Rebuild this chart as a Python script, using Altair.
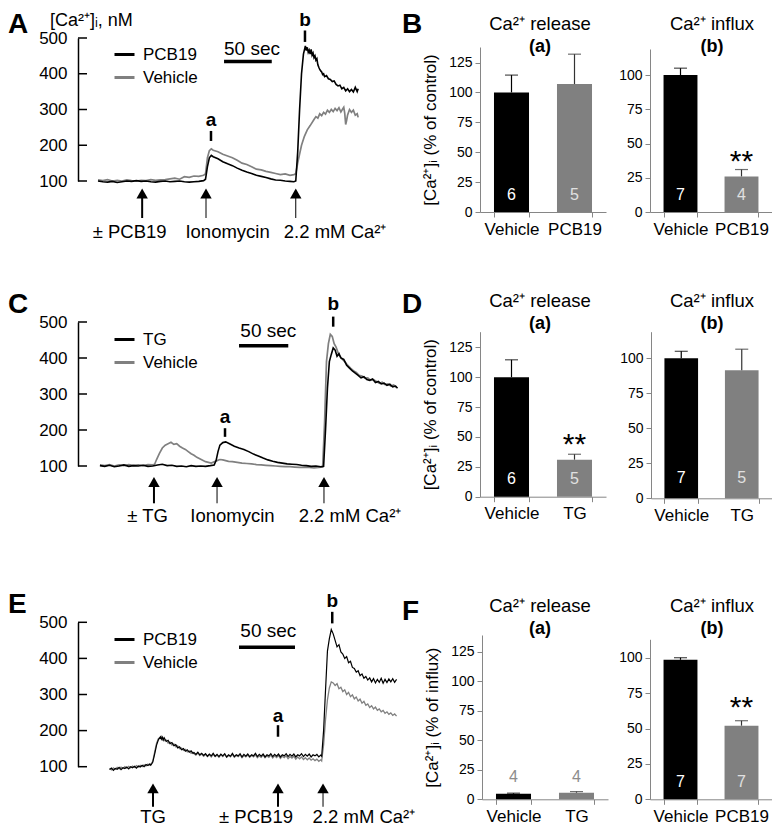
import altair as alt
import pandas as pd

FONT = "Liberation Sans"
BLACK = "#000000"
GRAY = "#808080"
AXGRAY = "#868686"
W, H = 764, 820   # whole drawing area (page origin is 8,8)

# ---------------- traces: (time [s], [Ca2+]i [nM]) ----------------
A_PCB19 = [(0,100),(5,98),(10,97),(15,99),(20,96),(25,98),(30,100),(35,99),(40,101),(45,99),(50,100),(55,98),
           (60,97),(65,99),(70,100),(75,98),(80,99),(85,100),(90,98),(95,97),(100,98),(105,99),(110,101),
           (112,105),(114,140),(116,165),(118,172),(120,168),(125,162),(130,154),(135,148),(140,143),(145,136),
           (150,130),(155,125),(160,121),(165,116),(170,113),(175,110),(180,106),(185,103),(190,102),(195,100),
           (200,99),(204,98),(206,100),(208,180),(210,300),(212,400),(214,455),(216,478),(217,465),(218,474),
           (219,460),(220,466),(221,455),(222,468),(223,452),(224,458),(225,445),(226,450),(227,438),(228,442),
           (229,425),(230,418),(231,412),(232,408),(233,405),(234,398),(235,400),(236,392),(238,395),(240,386),
           (242,384),(244,378),(246,380),(248,370),(250,366),(252,368),(254,358),(256,362),(258,352),(260,358),
           (262,350),(264,356),(266,349),(268,362),(270,350),(271,358)]
A_VEHICLE = [(0,103),(5,101),(10,104),(15,100),(20,102),(25,100),(30,103),(35,101),(40,100),(45,102),(50,101),
             (55,104),(60,102),(65,103),(70,104),(75,106),(80,108),(85,105),(90,112),(95,110),(100,114),(105,113),
             (110,116),(112,120),(114,165),(116,185),(118,190),(120,186),(125,182),(130,175),(135,170),(140,165),
             (145,158),(150,150),(155,146),(160,140),(165,133),(170,131),(175,127),(180,124),(185,121),(190,118),
             (195,120),(200,116),(204,118),(206,120),(208,150),(210,175),(212,200),(215,225),(218,243),(221,255),
             (225,272),(227,280),(229,276),(231,288),(233,283),(235,292),(237,287),(239,298),(241,292),(243,300),
             (245,294),(247,303),(249,297),(251,305),(253,293),(255,302),(256,306),(257,290),(258,258),(259,270),
             (260,285),(262,300),(264,292),(266,298),(268,284),(270,288),(271,278)]
C_TG = [(2,101),(7,99),(12,102),(17,98),(22,100),(27,103),(32,99),(37,101),(42,100),(47,102),(52,99),(57,100),
        (62,103),(67,105),(72,101),(77,102),(82,99),(87,100),(92,98),(97,101),(102,99),(107,100),(112,99),
        (117,101),(121,103),(123,115),(125,140),(127,158),(130,165),(133,167),(137,162),(142,155),(147,150),
        (152,146),(157,140),(162,133),(167,128),(172,122),(177,117),(182,113),(187,110),(192,108),(197,106),
        (202,105),(207,104),(212,102),(217,101),(222,99),(227,100),(232,98),(235,99),(237,200),(239,316),
        (241,390),(243,410),(245,428),(247,422),(249,405),(251,412),(253,400),(256,396),(259,380),(262,372),
        (265,364),(268,358),(271,352),(274,345),(277,348),(280,340),(283,338),(286,342),(289,332),(292,335),
        (295,328),(298,330),(301,324),(304,327),(307,320),(310,322),(312,316)]
C_VEHICLE = [(2,103),(7,101),(12,104),(17,100),(22,103),(27,101),(32,104),(37,102),(42,103),(47,101),(52,104),
             (57,103),(59,105),(61,118),(64,135),(67,150),(70,158),(73,162),(76,166),(79,160),(82,162),(85,155),
             (88,150),(91,146),(94,140),(97,134),(100,130),(103,124),(106,120),(109,116),(112,112),(115,110),
             (118,108),(121,112),(124,115),(127,118),(130,117),(133,115),(136,113),(140,112),(145,110),(150,108),
             (155,107),(160,106),(165,104),(170,103),(175,102),(180,101),(185,100),(190,99),(195,98),(200,98),
             (205,97),(210,96),(215,97),(220,96),(225,95),(230,96),(234,97),(236,220),(238,390),(240,440),
             (242,466),(244,460),(246,440),(248,430),(250,415),(252,405),(254,398),(257,390),(260,380),(263,372),
             (266,365),(269,360),(272,352),(275,350),(278,344),(281,345),(284,338),(287,340),(290,335),(293,330),
             (296,333),(299,326),(302,328),(305,322),(308,325),(311,318)]
E_PCB19 = [(12,92),(14,96),(16,90),(18,95),(20,93),(22,98),(24,92),(26,97),(28,95),(30,99),(32,94),(34,100),
           (36,97),(38,101),(40,96),(42,102),(44,99),(46,104),(48,100),(50,106),(52,103),(54,108),(55,104),
           (57,112),(59,135),(61,160),(63,175),(65,183),(66,176),(67,182),(68,174),(69,180),(71,170),(73,173),
           (75,164),(77,167),(79,158),(81,161),(83,152),(85,155),(87,147),(89,150),(91,143),(93,147),(95,140),
           (97,144),(99,137),(100,139),(102,134),(104,140),(106,133),(108,137),(110,131),(112,136),(114,129),
           (116,135),(118,130),(120,137),(122,129),(124,134),(126,128),(128,135),(130,130),(132,136),(134,127),
           (136,133),(138,129),(140,137),(142,128),(144,133),(146,130),(148,136),(150,127),(152,134),(154,129),
           (156,135),(158,128),(160,133),(162,130),(164,137),(166,128),(168,134),(170,129),(172,135),(174,127),
           (176,133),(178,130),(180,136),(182,128),(184,134),(186,129),(188,135),(190,127),(192,133),(194,130),
           (196,136),(198,128),(200,134),(202,129),(204,135),(206,127),(208,133),(210,130),(212,136),(214,128),
           (216,134),(218,129),(220,135),(222,127),(224,133),(226,130),(228,134),(230,127),(232,132),(233,129),
           (235,200),(237,312),(239,420),(241,455),(243,480),(245,468),(247,450),(249,432),(251,438),(253,418),
           (255,412),(257,400),(259,405),(261,388),(263,392),(265,375),(267,372),(269,362),(271,366),(273,352),
           (275,357),(277,345),(279,350),(281,340),(283,346),(285,335),(287,344),(289,332),(291,342),(293,334),
           (295,345),(297,331),(299,342),(301,333),(303,343),(305,335),(307,344),(309,334),(311,342)]
E_VEHICLE = [(12,95),(14,91),(16,97),(18,93),(20,98),(22,94),(24,99),(26,95),(28,100),(30,96),(32,101),(34,97),
             (36,102),(38,98),(40,103),(42,99),(44,104),(46,100),(48,105),(50,102),(52,107),(54,104),(55,106),
             (57,115),(59,140),(61,165),(63,178),(65,181),(66,184),(67,175),(68,179),(69,172),(71,174),(73,165),
             (75,168),(77,160),(79,163),(81,155),(83,158),(85,150),(87,152),(89,145),(91,148),(93,141),(95,144),
             (97,137),(99,140),(100,136),(102,132),(104,138),(106,131),(108,135),(110,129),(112,134),(114,128),
             (116,133),(118,127),(120,134),(122,128),(124,132),(126,126),(128,133),(130,128),(132,134),(134,126),
             (136,131),(138,127),(140,134),(142,126),(144,131),(146,128),(148,133),(150,125),(152,131),(154,127),
             (156,132),(158,126),(160,131),(162,127),(164,133),(166,125),(168,130),(170,126),(172,132),(174,125),
             (176,130),(178,126),(180,132),(182,124),(184,130),(186,125),(188,131),(190,123),(192,129),(194,125),
             (196,130),(198,122),(200,128),(202,124),(204,129),(206,121),(208,127),(210,122),(212,127),(214,120),
             (216,125),(218,119),(220,124),(222,118),(224,122),(226,117),(228,121),(230,115),(232,119),(233,116),
             (235,160),(237,230),(239,285),(241,318),(243,335),(245,332),(247,325),(249,330),(251,316),(253,320),
             (255,308),(257,313),(259,300),(261,306),(263,294),(265,299),(267,288),(269,293),(271,282),(273,287),
             (275,276),(277,281),(279,270),(281,274),(283,264),(285,269),(287,260),(289,265),(291,256),(293,260),
             (295,252),(297,256),(299,248),(301,252),(303,245),(305,249),(307,242),(309,246),(311,240)]

# ---------------- trace annotations ----------------
A_ARROW_T = [46, 112.5, 206]
A_ARROW_W = [2, 1, 1]
A_LABEL_T = [33, 135, 247]
A_LABELS = ["± PCB19", "Ionomycin", "2.2 mM Ca²⁺"]
A_MARK_T = [117.7, 215.6]          # 'a', 'b'
A_MARK_TXT = [254, 533]
A_MARK_TOP = [240, 521]
A_MARK_BOT = [212, 489]
A_BAR = (131.3, 181.0, 434, 160.4, 452)   # t1, t2, value, text t, text value

C_ARROW_T = [58.3, 124, 235.4]
C_ARROW_W = [2, 1, 1]
C_LABEL_T = [51.6, 140, 262.5]
C_LABELS = ["± TG", "Ionomycin", "2.2 mM Ca²⁺"]
C_MARK_T = [132.3, 245]
C_MARK_TXT = [219, 533]
C_MARK_TOP = [205, 515]
C_MARK_BOT = [181, 487]
C_BAR = (146.9, 198.2, 434, 177.4, 459)

E_ARROW_T = [57.3, 187.5, 234.4]
E_ARROW_W = [2, 2, 1]
E_LABEL_T = [57.3, 164.6, 277]
E_LABELS = ["TG", "± PCB19", "2.2 mM Ca²⁺"]
E_MARK_T = [187.5, 244]
E_MARK_TXT = [225, 543]
E_MARK_TOP = [215, 529]
E_MARK_BOT = [183, 497]
E_BAR = (146.9, 205.2, 431, 177.4, 460)

# ---------------- bar data ----------------
B1_CATS = ["Vehicle", "PCB19"]; B1_VAL = [100, 107]; B1_ERR = [14.5, 25]; B1_N = ["6", "5"]
B2_CATS = ["Vehicle", "PCB19"]; B2_VAL = [100, 26]; B2_ERR = [5, 5]; B2_N = ["7", "4"]
D1_CATS = ["Vehicle", "TG"]; D1_VAL = [100, 31]; D1_ERR = [14.5, 4.5]; D1_N = ["6", "5"]
D2_CATS = ["Vehicle", "TG"]; D2_VAL = [100, 91.5]; D2_ERR = [5, 15]; D2_N = ["7", "5"]
F1_CATS = ["Vehicle", "TG"]; F1_VAL = [4.6, 5.6]; F1_ERR = [0.6, 0.9]; F1_N = ["4", "4"]
F2_CATS = ["Vehicle", "PCB19"]; F2_VAL = [98.5, 52]; F2_ERR = [1.5, 3.5]; F2_N = ["7", "7"]


def txt(s, x, y, size, weight="normal", align="left", baseline="alphabetic", color=BLACK):
    return alt.Chart(pd.DataFrame({"s": [s]})).mark_text(
        fontSize=size, fontWeight=weight, font=FONT, color=color, align=align,
        baseline=baseline).encode(x=alt.value(x), y=alt.value(y), text="s:N")


def line_panel(treat, trt, veh, yrange, legend_y, arrow_t, arrow_w, head_v, tail_v,
               label_t, labels, label_v, mark_t, mark_txt, mark_top, mark_bot, sbar, lw):
    X = alt.X("t:Q", scale=alt.Scale(domain=[0, 320], range=[90, 397.2]), axis=None)
    Y = alt.Y("value:Q", scale=alt.Scale(domain=[100, 500], range=yrange),
              axis=alt.Axis(values=[100, 200, 300, 400, 500], orient="left", offset=-70, ticks=False,
                            tickSize=0, grid=False, domainColor=BLACK, domainWidth=1.5, labelFontSize=17,
                            labelColor=BLACK, labelPadding=11, labelFont=FONT, title=None))
    color = alt.Color("series:N", scale=alt.Scale(domain=[treat, "Vehicle"], range=[BLACK, GRAY]),
                      legend=alt.Legend(orient="none", legendX=105, legendY=legend_y, title=None,
                                        symbolType="stroke", symbolSize=400, symbolStrokeWidth=3,
                                        labelFontSize=17, labelFont=FONT, labelColor=BLACK,
                                        labelOffset=7, rowPadding=3, padding=0))
    veh_df = pd.DataFrame(veh, columns=["t", "value"]).assign(series="Vehicle")
    trt_df = pd.DataFrame(trt, columns=["t", "value"]).assign(series=treat)
    l_veh = alt.Chart(veh_df).mark_line(strokeWidth=lw + 0.1).encode(x=X, y=Y, color=color)
    l_trt = alt.Chart(trt_df).mark_line(strokeWidth=lw).encode(x=X, y=Y, color=color)
    ticks = alt.Chart(pd.DataFrame({"value": [100, 200, 300, 400, 500]})).mark_rule(
        color=BLACK, strokeWidth=1.5).encode(y=Y, x=alt.value(70), x2=alt.value(79))
    arr_df = pd.DataFrame({"t": arrow_t, "value": [head_v] * 3, "value2": [tail_v] * 3, "w": arrow_w})
    shafts = alt.Chart(arr_df).mark_rule(color=BLACK).encode(
        x=X, y=Y, y2=alt.Y2("value2:Q"), strokeWidth=alt.StrokeWidth("w:Q", scale=None))
    heads = alt.Chart(arr_df).mark_point(shape="triangle-up", filled=True, size=130, color=BLACK,
                                         opacity=1).encode(x=X, y=Y)
    lab_df = pd.DataFrame({"t": label_t, "value": [label_v] * 3, "label": labels})
    labs = alt.Chart(lab_df).mark_text(fontSize=18.5, font=FONT, color=BLACK, baseline="middle",
                                       align="center").encode(x=X, y=Y, text="label:N")
    mk_df = pd.DataFrame({"t": mark_t, "value": mark_top, "value2": mark_bot})
    mk = alt.Chart(mk_df).mark_rule(color=BLACK, strokeWidth=2.5).encode(x=X, y=Y, y2=alt.Y2("value2:Q"))
    mkt_df = pd.DataFrame({"t": mark_t, "value": mark_txt, "label": ["a", "b"]})
    mkt = alt.Chart(mkt_df).mark_text(fontSize=19, fontWeight="bold", font=FONT, color=BLACK,
                                      baseline="alphabetic", align="center").encode(x=X, y=Y, text="label:N")
    sb_df = pd.DataFrame({"t": [sbar[0]], "t2": [sbar[1]], "value": [sbar[2]]})
    sb = alt.Chart(sb_df).mark_rule(color=BLACK, strokeWidth=3.5).encode(x=X, x2=alt.X2("t2:Q"), y=Y)
    sbt_df = pd.DataFrame({"t": [sbar[3]], "value": [sbar[4]], "label": ["50 sec"]})
    sbt = alt.Chart(sbt_df).mark_text(fontSize=19, font=FONT, color=BLACK, baseline="alphabetic",
                                      align="center").encode(x=X, y=Y, text="label:N")
    return alt.layer(ticks, l_veh, l_trt, shafts, heads, labs, mk, mkt, sb, sbt)


def bar_panel(cats, vals, errs, ns, n_v, n_colors, star_v, xrange, ydom, yrange, yvals, ytitle=None):
    zero_y = yrange[0]
    X = alt.X("cat:N", sort=cats, scale=alt.Scale(range=xrange, paddingInner=0.444, paddingOuter=0.222),
              axis=alt.Axis(title=None, orient="bottom", offset=zero_y - H, labelAngle=0, labelFontSize=17,
                            labelFont=FONT, labelColor=BLACK, domainColor=AXGRAY, tickColor=AXGRAY,
                            tickSize=5, tickBand="extent", labelPadding=4))
    ax = dict(values=yvals, orient="left", offset=-xrange[0], grid=False, domainColor=AXGRAY,
              tickColor=AXGRAY, tickSize=5, labelFontSize=14, labelFont=FONT, labelColor=BLACK,
              labelPadding=3)
    if ytitle:
        ax.update(title=ytitle, titleFontSize=17, titleFont=FONT, titleFontWeight="normal",
                  titleColor=BLACK, titlePadding=9)
    else:
        ax.update(title=None)
    ysc = alt.Scale(domain=ydom, range=yrange)

    def Yf(field):
        return alt.Y(field, scale=ysc, axis=alt.Axis(**ax))

    df = pd.DataFrame({"cat": cats, "value": vals, "hi": [v + e for v, e in zip(vals, errs)],
                       "n": ns, "ny": n_v, "ncol": n_colors, "fill": [BLACK, GRAY],
                       "ecol": [BLACK, "#333333"]})
    bars = alt.Chart(df).mark_bar().encode(x=X, y=Yf("value:Q"), color=alt.Color("fill:N", scale=None))
    err = alt.Chart(df).mark_rule(strokeWidth=1.2).encode(
        x=X, y=Yf("value:Q"), y2=alt.Y2("hi:Q"), color=alt.Color("ecol:N", scale=None))
    cap = alt.Chart(df).mark_tick(orient="horizontal", size=13, thickness=1.2).encode(
        x=X, y=Yf("hi:Q"), color=alt.Color("ecol:N", scale=None))
    ntxt = alt.Chart(df).mark_text(fontSize=16, font=FONT, baseline="middle", align="center").encode(
        x=X, y=Yf("ny:Q"), text="n:N", color=alt.Color("ncol:N", scale=None))
    layers = [bars, err, cap, ntxt]
    if star_v is not None:
        sdf = pd.DataFrame({"cat": [cats[1]], "sy": [star_v], "s": ["**"]})
        layers.append(alt.Chart(sdf).mark_text(fontSize=30, font=FONT, color=BLACK, baseline="alphabetic",
                                               align="center").encode(x=X, y=Yf("sy:Q"), text="s:N"))
    return alt.layer(*layers)


A = line_panel("PCB19", A_PCB19, A_VEHICLE, [173, 30], 35, A_ARROW_T, A_ARROW_W, 65, -3.5,
               A_LABEL_T, A_LABELS, -43, A_MARK_T, A_MARK_TXT, A_MARK_TOP, A_MARK_BOT, A_BAR, 1.6)
C = line_panel("TG", C_TG, C_VEHICLE, [458, 314], 320, C_ARROW_T, C_ARROW_W, 55.6, -3.6,
               C_LABEL_T, C_LABELS, -37.5, C_MARK_T, C_MARK_TXT, C_MARK_TOP, C_MARK_BOT, C_BAR, 1.6)
E = line_panel("PCB19", E_PCB19, E_VEHICLE, [758.7, 614.3], 620, E_ARROW_T, E_ARROW_W, 40, -11,
               E_LABEL_T, E_LABELS, -38, E_MARK_T, E_MARK_TXT, E_MARK_TOP, E_MARK_BOT, E_BAR, 1.2)

WHITE = "#ffffff"; LIGHT = "#e0e0e0"; MID = "#8c8c8c"
Ba = bar_panel(B1_CATS, B1_VAL, B1_ERR, B1_N, [14, 14], [WHITE, LIGHT], None, [472, 598],
               [0, 138], [204, 39], [0, 25, 50, 75, 100, 125], "[Ca²⁺]ᵢ (% of control)")
Bb = bar_panel(B2_CATS, B2_VAL, B2_ERR, B2_N, [12.5, 12.5], [WHITE, LIGHT], 30.2, [642, 764],
               [0, 119], [204, 41], [0, 25, 50, 75, 100])
Da = bar_panel(D1_CATS, D1_VAL, D1_ERR, D1_N, [15, 15], [WHITE, LIGHT], 35.7, [472, 598],
               [0, 138], [488.7, 323.7], [0, 25, 50, 75, 100, 125], "[Ca²⁺]ᵢ (% of control)")
Db = bar_panel(D2_CATS, D2_VAL, D2_ERR, D2_N, [14.3, 14.3], [WHITE, LIGHT], None, [643, 764],
               [0, 119], [490.3, 323.7], [0, 25, 50, 75, 100])
Fa = bar_panel(F1_CATS, F1_VAL, F1_ERR, F1_N, [19, 19], [MID, MID], None, [474, 600],
               [0, 139], [791.3, 627], [0, 25, 50, 75, 100, 125], "[Ca²⁺]ᵢ (% of influx)")
Fb = bar_panel(F2_CATS, F2_VAL, F2_ERR, F2_N, [12.5, 12.5], [WHITE, LIGHT], 58.2, [642, 764],
               [0, 113], [791.3, 631.3], [0, 25, 50, 75, 100])

# panel letters, headings and the y title of the traces
texts = [
    txt("A", 0, 25, 28, "bold"), txt("B", 394, 25, 28, "bold"),
    txt("C", 0, 305, 28, "bold"), txt("D", 394, 305, 28, "bold"),
    txt("E", 0, 605, 28, "bold"), txt("F", 394, 612, 28, "bold"),
    txt("[Ca²⁺]ᵢ, nM", 42, 18, 18),
]
for yb, ys in [(22, 44), (299, 321), (604, 626)]:
    texts += [txt("Ca²⁺ release", 532, yb, 18.5, align="center"), txt("(a)", 532, ys, 18, "bold", "center"),
              txt("Ca²⁺ influx", 704, yb, 18.5, align="center"), txt("(b)", 704, ys, 18, "bold", "center")]

chart = alt.layer(A, C, E, Ba, Bb, Da, Db, Fa, Fb, *texts).resolve_scale(
    x="independent", y="independent", color="independent").properties(
    width=W, height=H, autosize=alt.AutoSizeParams(type="none"), padding=0).configure(
    background="white").configure_view(stroke=None, strokeWidth=0)

chart.save("out.html", embed_options={"renderer": "svg", "actions": False})
